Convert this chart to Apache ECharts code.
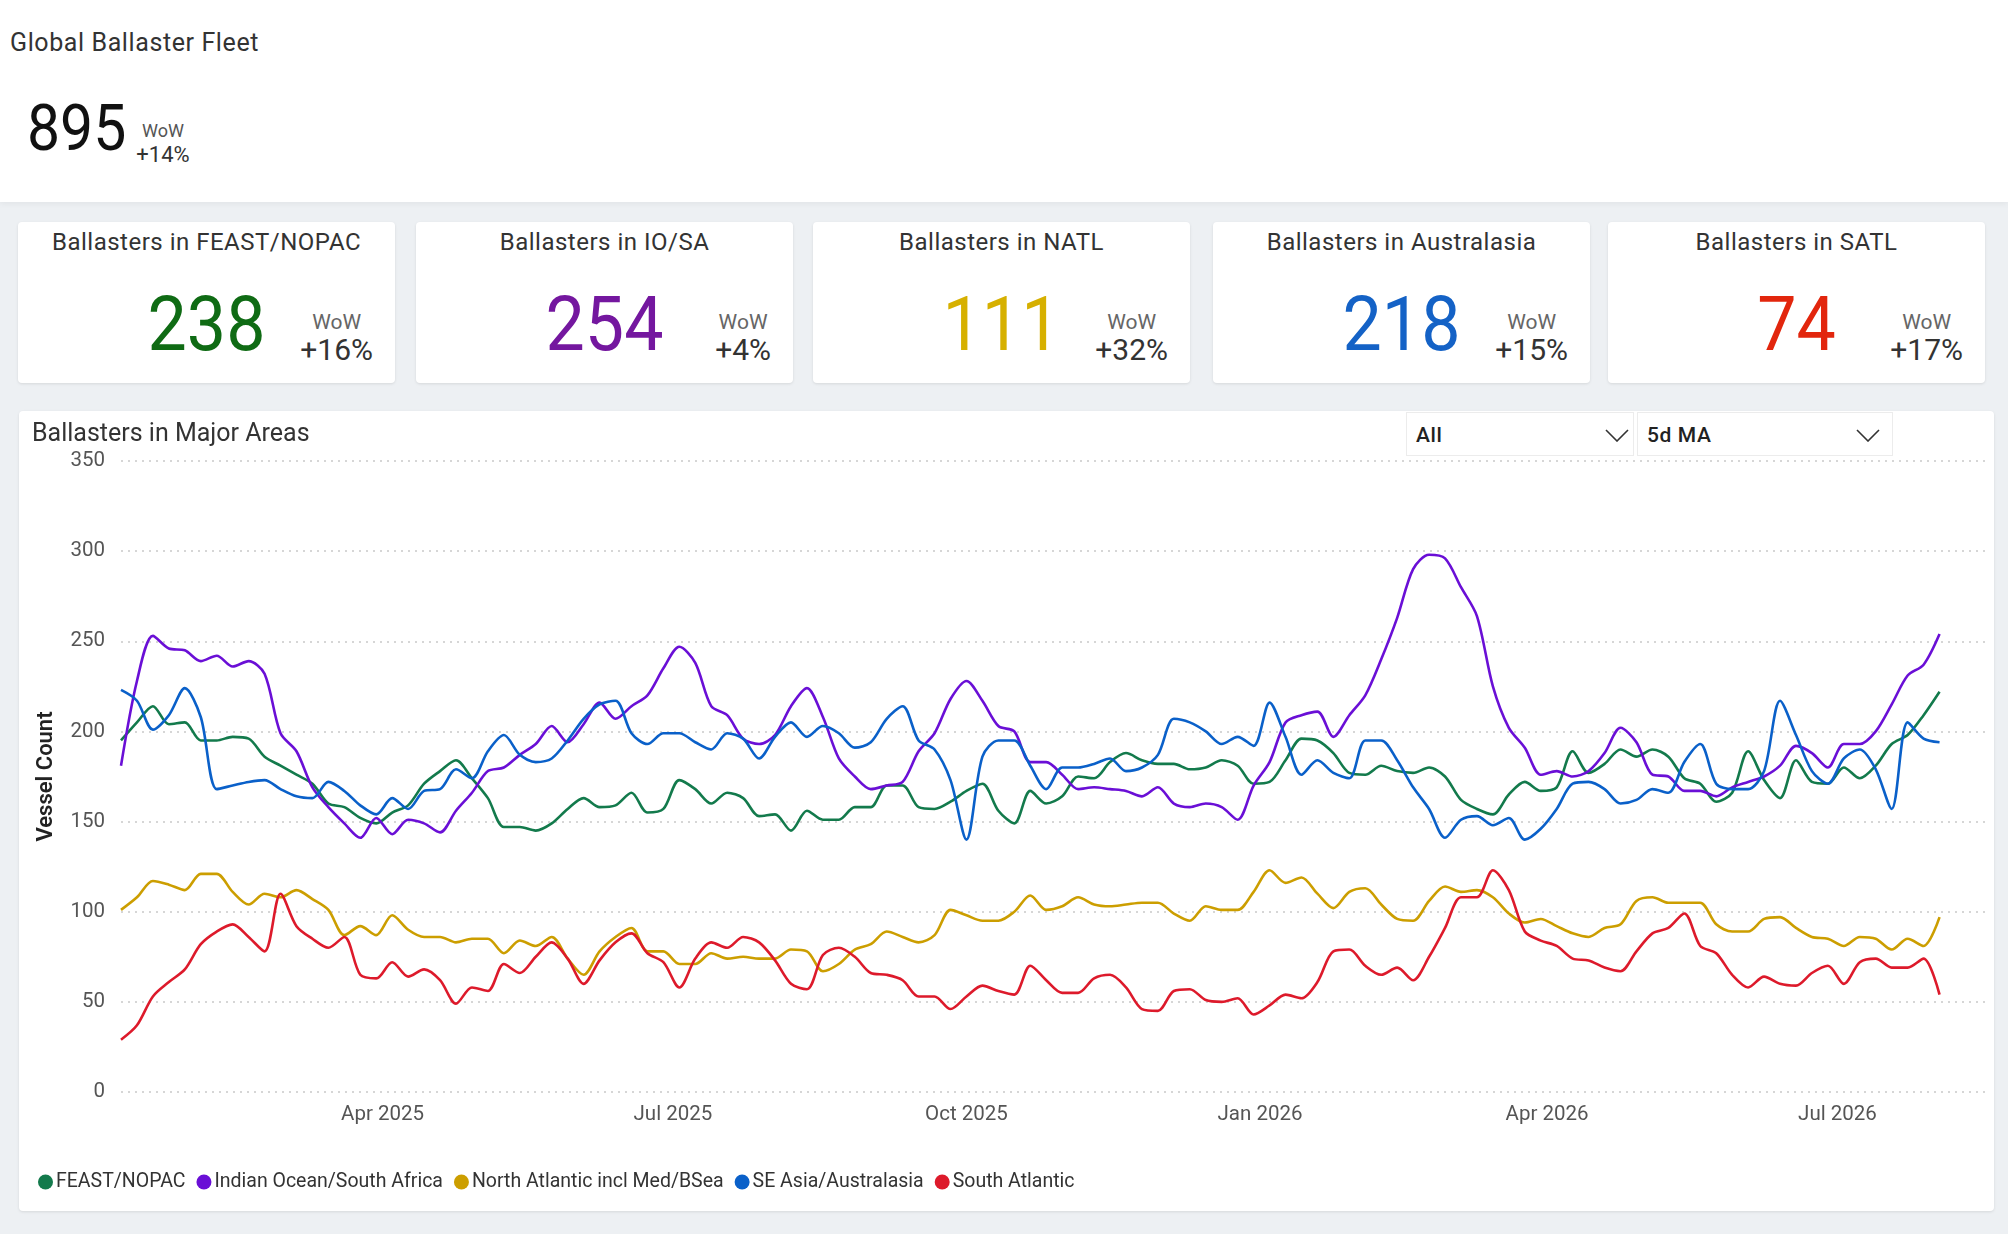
<!DOCTYPE html>
<html>
<head>
<meta charset="utf-8">
<script src="https://cdn.jsdelivr.net/npm/echarts@6/dist/echarts.min.js"></script>
<style>
  html, body { margin:0; padding:0; }
  body { width:2008px; height:1234px; background:#edf0f3; position:relative; overflow:hidden; font-family: Roboto, "Noto Sans", sans-serif; color:#333; }
  .abs { position:absolute; }
  #header { left:0; top:0; width:2008px; height:202px; background:#fff; box-shadow:0 2px 6px rgba(0,0,0,0.05); }
  .card { position:absolute; top:222px; width:377px; height:161px; background:#fff; border-radius:4px; box-shadow:0 1px 3px rgba(0,0,0,0.10); }
  .card .t { position:absolute; left:0; width:100%; top:6px; text-align:center; font-size:24px; line-height:28px; letter-spacing:0.5px; color:#333; }
  .card .n { position:absolute; left:0; width:100%; top:64px; text-align:center; font-size:76px; line-height:76px; letter-spacing:0px; transform:scaleX(0.92); }
  .card .w { position:absolute; right:22px; top:89px; text-align:center; }
  .card .w1 { font-size:21px; line-height:22px; color:#666; }
  .card .w2 { font-size:30px; line-height:30px; color:#333; margin-top:2px; }
  #chartCard { left:19px; top:411px; width:1975px; height:800px; background:#fff; border-radius:4px; box-shadow:0 1px 3px rgba(0,0,0,0.10); }
  #chart { position:absolute; left:0; top:0; width:1975px; height:800px; }
  .dd { position:absolute; top:412px; height:44px; background:#fff; border:1px solid #ececec; box-sizing:border-box; font-size:21px; font-weight:500; color:#222; line-height:44px; padding-left:9px; letter-spacing:0.6px; }
  .dd svg { position:absolute; top:16px; }
</style>
</head>
<body>
<div id="header" class="abs">
  <div class="abs" style="left:10px;top:28px;font-size:25px;line-height:30px;color:#333;letter-spacing:0.6px;">Global Ballaster Fleet</div>
  <div class="abs" style="left:27px;top:97px;font-size:64px;line-height:64px;color:#111;letter-spacing:0px;transform-origin:left;transform:scaleX(0.92);">895</div>
  <div class="abs" style="left:131px;width:64px;top:122px;text-align:center;">
    <div style="font-size:18px;line-height:18px;color:#555;">WoW</div>
    <div style="font-size:22px;line-height:22px;color:#333;margin-top:4px;">+14%</div>
  </div>
</div>

<div id="cards"></div>

<div id="chartCard" class="abs"><div id="chart"></div></div>
<div class="dd" style="left:1406px;width:228px;">All<svg width="24" height="13" style="left:198px"><polyline points="1,1 12,12 23,1" fill="none" stroke="#333" stroke-width="1.6"/></svg></div>
<div class="dd" style="left:1637px;width:256px;">5d MA<svg width="24" height="13" style="left:218px"><polyline points="1,1 12,12 23,1" fill="none" stroke="#333" stroke-width="1.6"/></svg></div>

<script>
// ---------------- KPI data ----------------
const cardTitles = ['Ballasters in FEAST/NOPAC', 'Ballasters in IO/SA', 'Ballasters in NATL', 'Ballasters in Australasia', 'Ballasters in SATL'];
const cardValues = [238, 254, 111, 218, 74];
const cardWoW = ['+16%', '+4%', '+32%', '+15%', '+17%'];
const cardColors = ['#0f6b14', '#74179f', '#d6b000', '#1462c6', '#e2260d'];
const cardLefts = [18, 416, 813, 1213, 1608];

// ---------------- Chart data (5-day steps from 2025-01-09) ----------------
const startDate = Date.UTC(2025, 0, 9);
const stepDays = 5;
const seriesNames = ['FEAST/NOPAC', 'Indian Ocean/South Africa', 'North Atlantic incl Med/BSea', 'SE Asia/Australasia', 'South Atlantic'];
const seriesColors = ['#137a4c', '#6a0fd6', '#cc9e00', '#0a60c9', '#dd1a2b'];

const feast = [195,205,214,204,205,195,195,197,196,186,
  181,176,171,160,158,152,149,155,159,171,
  178,184,174,163,147,147,145,149,157,163,
  158,159,166,155,157,173,168,160,166,163,
  153,154,145,156,151,151,158,158,170,170,
  158,157,161,167,171,156,149,167,160,164,
  175,174,183,188,184,182,182,179,180,184,
  181,171,172,184,196,195,188,177,176,181,
  178,177,180,175,162,157,154,165,172,167,
  169,189,177,182,190,186,190,186,174,171,
  161,166,189,173,163,184,172,171,180,174,
  181,193,198,209,222];

const indian = [181,228,253,246,245,239,242,236,239,232,
  199,189,169,158,149,141,152,143,151,149,
  144,156,166,178,180,187,193,203,194,204,
  216,207,214,220,235,247,238,214,209,196,
  193,198,214,224,208,185,175,168,170,172,
  189,199,218,228,217,203,200,183,183,176,
  168,169,168,167,164,169,160,158,160,158,
  151,170,183,205,209,211,197,209,220,240,
  263,290,298,296,280,264,225,202,191,176,
  178,175,178,188,202,194,176,175,167,167,
  164,169,172,175,181,192,188,180,193,193,
  200,215,231,237,254];

const natl = [101,108,117,115,112,121,121,111,104,110,
  108,112,107,101,87,92,87,98,90,86,
  86,83,85,85,77,84,81,86,74,65,
  78,86,91,78,78,71,71,77,74,75,
  74,74,79,78,67,71,79,82,89,86,
  83,87,101,98,95,95,100,109,101,103,
  108,104,103,104,105,105,99,95,103,101,
  101,111,123,116,119,110,102,111,113,104,
  96,95,106,114,111,112,108,99,94,96,
  92,88,86,91,93,106,108,105,105,105,
  93,89,89,96,97,91,86,85,81,86,
  85,79,85,81,97];

const seAsia = [223,217,201,209,224,208,168,170,172,173,
  168,164,163,172,167,159,154,163,157,167,
  168,179,174,189,198,187,183,185,195,207,
  215,217,199,193,199,199,194,190,199,196,
  185,197,205,197,203,199,191,194,207,214,
  195,190,173,140,186,195,195,181,168,180,
  180,182,185,178,180,187,207,205,200,193,
  197,192,216,197,176,184,177,174,195,195,
  184,169,157,141,151,153,148,152,140,146,
  157,171,172,168,160,162,168,166,183,193,
  171,168,168,178,217,198,178,171,185,190,
  179,157,205,196,194];

const satl = [29,37,53,61,68,82,89,93,86,78,
  110,92,85,80,86,65,63,72,64,68,
  62,49,58,56,71,66,75,83,74,60,
  73,83,88,77,72,58,74,83,80,86,
  83,73,60,57,76,80,75,66,65,62,
  53,53,46,53,59,56,54,70,62,55,
  55,63,65,58,46,45,56,57,51,50,
  52,43,48,54,52,61,78,79,70,65,
  69,62,75,91,108,108,123,112,89,84,
  81,74,73,69,67,78,88,91,99,81,
  77,65,58,64,60,59,66,70,60,72,
  74,69,69,74,54];

const xTickDates = [Date.UTC(2025,3,1), Date.UTC(2025,6,1), Date.UTC(2025,9,1), Date.UTC(2026,0,1), Date.UTC(2026,3,1), Date.UTC(2026,6,1)];
const xTickLabels = ['Apr 2025', 'Jul 2025', 'Oct 2025', 'Jan 2026', 'Apr 2026', 'Jul 2026'];
const yTicks = [0, 50, 100, 150, 200, 250, 300, 350];

// ---------------- KPI cards ----------------
const cardsEl = document.getElementById('cards');
cardTitles.forEach((t, i) => {
  const c = document.createElement('div');
  c.className = 'card';
  c.style.left = cardLefts[i] + 'px';
  c.innerHTML = '<div class="t">' + t + '</div>' +
    '<div class="n" style="color:' + cardColors[i] + '">' + cardValues[i] + '</div>' +
    '<div class="w"><div class="w1">WoW</div><div class="w2">' + cardWoW[i] + '</div></div>';
  cardsEl.appendChild(c);
});

// ---------------- Chart ----------------
const dayMs = 86400000;
const dates = feast.map((_, i) => startDate + i * stepDays * dayMs);
const allSeries = [feast, indian, natl, seAsia, satl];

const chart = echarts.init(document.getElementById('chart'), null, { renderer: 'canvas' });
chart.setOption({
  animation: false,
  textStyle: { fontFamily: 'Roboto, "Noto Sans", sans-serif' },
  title: {
    text: 'Ballasters in Major Areas', left: 13, top: 11, padding: 0,
    textStyle: { fontSize: 25, fontWeight: 'normal', color: '#333' }
  },
  grid: { left: 102, right: 5, top: 50, bottom: 119 },
  legend: {
    left: 14, top: 756, icon: 'circle', itemWidth: 15, itemHeight: 15, itemGap: 11,
    textStyle: { fontSize: 19.5, color: '#333', padding: [0, 0, 0, -2] },
    data: seriesNames
  },
  xAxis: {
    type: 'value',
    min: startDate,
    max: Date.UTC(2026, 7, 17, 12),
    axisLine: { show: false },
    axisTick: { show: false },
    splitLine: { show: false },
    axisLabel: {
      customValues: xTickDates,
      margin: 12,
      fontSize: 20.5,
      color: '#555',
      formatter: function (v) {
        let best = 0, bd = Infinity;
        xTickDates.forEach((d, i) => { const dd = Math.abs(d - v); if (dd < bd) { bd = dd; best = i; } });
        return xTickLabels[best];
      }
    }
  },
  yAxis: {
    type: 'value',
    min: yTicks[0], max: yTicks[yTicks.length - 1], interval: 50,
    name: 'Vessel Count', nameLocation: 'middle', nameRotate: 90, nameGap: 64,
    nameTextStyle: { fontSize: 22, fontWeight: 600, color: '#222' },
    axisLine: { show: false },
    axisTick: { show: false },
    axisLabel: { fontSize: 20.5, color: '#555', margin: 16 },
    splitLine: { lineStyle: { type: [2, 5], color: '#c9c9c9', width: 1.5 } }
  },
  series: allSeries.map((arr, k) => ({
    name: seriesNames[k],
    type: 'line',
    data: arr.map((v, i) => [dates[i], v]),
    showSymbol: false,
    symbol: 'circle',
    smooth: 0.3,
    color: seriesColors[k],
    lineStyle: { width: 2.6, color: seriesColors[k] }
  }))
});
</script>
</body>
</html>
